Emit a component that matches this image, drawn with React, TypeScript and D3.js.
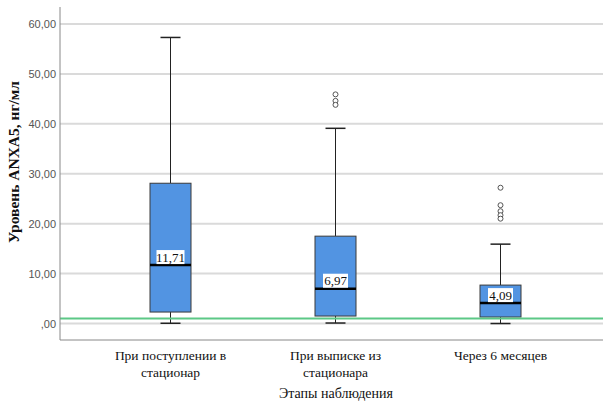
import * as d3 from 'd3';
import React from 'react';

// stages of observation
const categories = [
  ['При поступлении в', 'стационар'],
  ['При выписке из', 'стационара'],
  ['Через 6 месяцев'],
];
const whiskerLow = [0.05, 0.1, 0.0];
const q1 = [2.3, 1.5, 1.3];
const median = [11.71, 6.97, 4.09];
const q3 = [28.1, 17.5, 7.7];
const whiskerHigh = [57.3, 39.1, 15.9];
const outliers = [[], [45.9, 44.6, 43.8], [27.2, 23.7, 22.5, 21.7, 21.0]];
const yTicks = [0, 10, 20, 30, 40, 50, 60];
const refLine = 1.0;

const fmt = (v: number) => {
  const s = d3.format('.2f')(v).replace('.', ',');
  return v === 0 ? s.replace(/^0/, '') : s;
};

export default function App() {
  const width = 603;
  const height = 404;
  const left = 60;
  const bottom = 340;

  const x = d3.scaleBand()
    .domain(categories.map((_, i) => String(i)))
    .range([88, 583]);

  const y = d3.scaleLinear()
    .domain([-3.3, 63.3])
    .range([bottom, 7.5]);

  const boxW = 41;
  const capW = 20;
  const serif = '"Liberation Serif", "Times New Roman", serif';
  const sans = '"Liberation Sans", Arial, sans-serif';

  return (
    <svg width={width} height={height} style={{ position: 'absolute', left: 0, top: 0 }}>
      <rect width={width} height={height} fill="white" />

      {/* grid lines */}
      {yTicks.map(t => (
        <line key={t} x1={left} x2={width} y1={y(t)} y2={y(t)} stroke="#dadada" strokeWidth={2} />
      ))}

      {/* y tick labels */}
      {yTicks.map(t => (
        <text key={'l' + t} x={56} y={y(t) + 4} textAnchor="end" fontFamily={sans} fontSize={11} fill="#555">
          {fmt(t)}
        </text>
      ))}

      {/* boxes */}
      {categories.map((_, i) => {
        const cx = x(String(i))! + x.bandwidth() / 2;
        const labelW = median[i] >= 10 ? 28 : 25;
        return (
          <g key={i}>
            <line x1={cx} x2={cx} y1={y(whiskerHigh[i])} y2={y(q3[i])} stroke="#222" strokeWidth={1} />
            <line x1={cx} x2={cx} y1={y(q1[i])} y2={y(whiskerLow[i])} stroke="#222" strokeWidth={1} />
            <line x1={cx - capW / 2} x2={cx + capW / 2} y1={y(whiskerHigh[i])} y2={y(whiskerHigh[i])} stroke="#222" strokeWidth={1.5} />
            <line x1={cx - capW / 2} x2={cx + capW / 2} y1={y(whiskerLow[i])} y2={y(whiskerLow[i])} stroke="#222" strokeWidth={1.5} />
            <rect x={cx - boxW / 2} y={y(q3[i])} width={boxW} height={y(q1[i]) - y(q3[i])}
              fill="#5294e2" stroke="#3a3a3a" strokeWidth={1} />
            <line x1={cx - boxW / 2} x2={cx + boxW / 2} y1={y(median[i])} y2={y(median[i])} stroke="#000" strokeWidth={2.5} />
            <rect x={cx - labelW / 2} y={y(median[i]) - 15} width={labelW} height={14} fill="white" />
            <text x={cx} y={y(median[i]) - 3.5} textAnchor="middle" fontFamily={serif} fontSize={13} fill="#111">
              {fmt(median[i])}
            </text>
            {outliers[i].map((o, j) => (
              <circle key={j} cx={cx} cy={y(o)} r={2.5} fill="white" stroke="#555" strokeWidth={1} />
            ))}
          </g>
        );
      })}

      {/* reference line */}
      <line x1={left} x2={width} y1={y(refLine)} y2={y(refLine)} stroke="#5cc886" strokeWidth={2} />

      {/* axes */}
      <line x1={left} x2={left} y1={7} y2={bottom} stroke="#888" strokeWidth={1} />
      <line x1={left} x2={width} y1={bottom} y2={bottom} stroke="#888" strokeWidth={1} />

      {/* category labels */}
      {categories.map((lines, i) => {
        const cx = x(String(i))! + x.bandwidth() / 2;
        return (
          <text key={'c' + i} textAnchor="middle" fontFamily={serif} fontSize={13.5} fill="#111">
            {lines.map((ln, k) => (
              <tspan key={k} x={cx} y={360 + k * 17}>{ln}</tspan>
            ))}
          </text>
        );
      })}

      {/* axis titles */}
      <text x={336} y={398} textAnchor="middle" fontFamily={serif} fontSize={14} fill="#111">
        Этапы наблюдения
      </text>
      <text transform={`translate(19,${162})rotate(-90)`} textAnchor="middle" fontFamily={serif}
        fontSize={15.5} fontWeight="bold" fill="#111">
        Уровень ANXA5, нг/мл
      </text>
    </svg>
  );
}
